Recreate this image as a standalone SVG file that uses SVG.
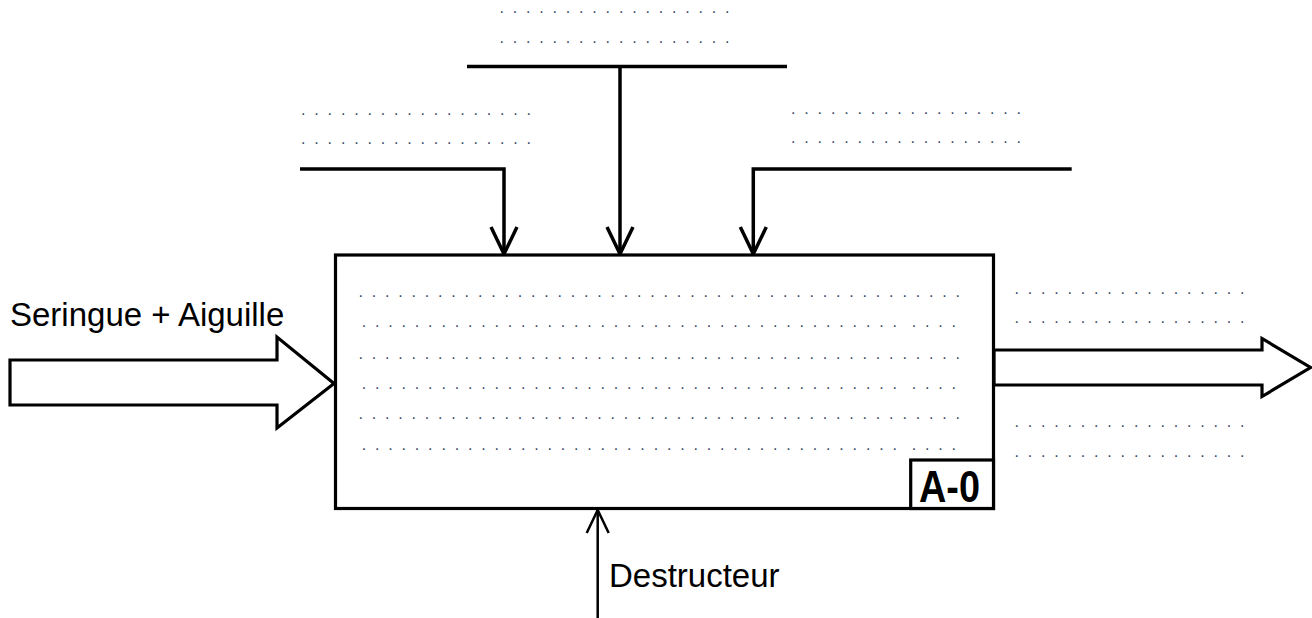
<svg xmlns="http://www.w3.org/2000/svg" width="1312" height="618" viewBox="0 0 1312 618">
<style>
.ln{fill:none;stroke:#000;stroke-width:3.5;stroke-linejoin:miter}
.thin{fill:none;stroke:#000;stroke-width:2.5}
.big{fill:#fff;stroke:#000;stroke-width:3.2;stroke-linejoin:miter}
.lbl{font-family:"Liberation Sans",Arial,sans-serif;font-size:33px;fill:#000}
.dots{font-family:"Liberation Sans",Arial,sans-serif;font-size:16px;letter-spacing:8.82px;fill:#3a4a66}
.code{font-family:"Liberation Sans",Arial,sans-serif;font-weight:bold;font-size:44px;fill:#000}
</style>
<defs>
<marker id="v" viewBox="-3 -3 33 32" refX="27" refY="13" markerWidth="33" markerHeight="32" markerUnits="userSpaceOnUse" orient="auto">
<path d="M0,0 L27,13 L0,26" fill="none" stroke="#000" stroke-width="3.5"/>
</marker>
<marker id="vs" viewBox="-3 -3 28 28" refX="23" refY="11" markerWidth="28" markerHeight="28" markerUnits="userSpaceOnUse" orient="auto">
<path d="M0,0 L23,11 L0,22" fill="none" stroke="#000" stroke-width="2.5"/>
</marker>
</defs>
<rect width="1312" height="618" fill="#fff"/>

<g id="connectors">
<path class="ln" d="M467,66.5 H787"/>
<path class="ln" d="M620,66.5 V254" marker-end="url(#v)"/>
<path class="ln" d="M300,169 H504 V254" marker-end="url(#v)"/>
<path class="ln" d="M1071.7,169 H753.3 V254" marker-end="url(#v)"/>
<path class="thin" d="M597.7,618 V510" marker-end="url(#vs)"/>
<polygon id="input-arrow" class="big" points="10,360 277,360 277,337 334,383.5 277,428 277,405 10,405"/>
<polygon id="output-arrow" class="big" points="994,350 1262,350 1262,338.5 1310.5,367.5 1262,396.5 1262,385 994,385"/>
</g>

<g id="activity">
<rect x="335.5" y="255" width="658" height="253.5" fill="#fff" stroke="#000" stroke-width="3.2"/>
<text class="dots" x="358.5" y="296.8">..............................................</text>
<text class="dots" y="326.8"><tspan x="361.8">.........................................</tspan><tspan x="911.8">....</tspan></text>
<text class="dots" x="358.5" y="358.5">..............................................</text>
<text class="dots" y="388.5"><tspan x="361.8">.........................................</tspan><tspan x="911.8">....</tspan></text>
<text class="dots" x="358.5" y="418.5">..............................................</text>
<text class="dots" y="450.1"><tspan x="361.8">.........................................</tspan><tspan x="911.8">....</tspan></text>
</g>

<g id="node-id">
<rect x="910.7" y="460" width="82.8" height="48.5" fill="#fff" stroke="#000" stroke-width="3.2"/>
<text class="code" x="919" y="501.5" textLength="61" lengthAdjust="spacingAndGlyphs">A-0</text>
</g>

<g id="control-top">
<text class="dots" x="499.5" y="13.1">..................</text>
<text class="dots" x="499.5" y="43.1">..................</text>
</g>
<g id="control-left">
<text class="dots" x="301.1" y="114.8">..................</text>
<text class="dots" x="301.1" y="144.1">..................</text>
</g>
<g id="control-right">
<text class="dots" x="791.1" y="113.5">..................</text>
<text class="dots" x="791.1" y="143.1">..................</text>
</g>
<g id="input">
<text class="lbl" x="10" y="325.5">Seringue + Aiguille</text>
</g>
<g id="output">
<text class="dots" x="1014.5" y="293.5">..................</text>
<text class="dots" x="1014.5" y="323.1">..................</text>
<text class="dots" x="1014.5" y="426.8">..................</text>
<text class="dots" x="1014.5" y="456.5">..................</text>
</g>
<g id="mechanism">
<text class="lbl" x="609" y="586.5" font-size="32">Destructeur</text>
</g>
</svg>
